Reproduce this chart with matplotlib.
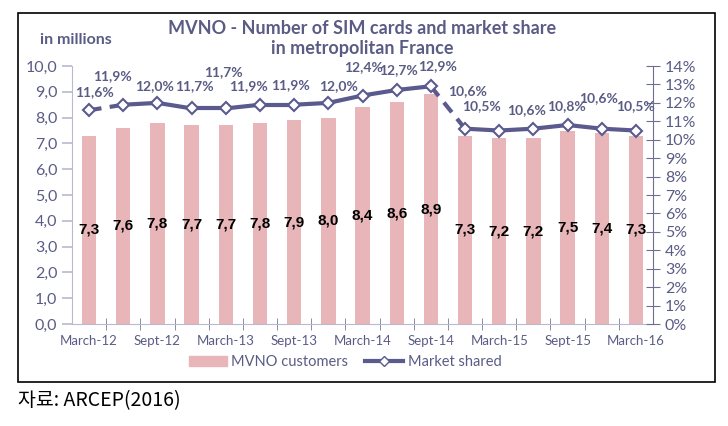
import matplotlib.pyplot as plt
import matplotlib.patches as patches
import numpy as np

# data
periods = ["March-12", "June-12", "Sept-12", "Dec-12", "March-13", "June-13", "Sept-13",
           "Dec-13", "March-14", "June-14", "Sept-14", "Dec-14", "March-15", "June-15",
           "Sept-15", "Dec-15", "March-16"]
customers = [7.3, 7.6, 7.8, 7.7, 7.7, 7.8, 7.9, 8.0, 8.4, 8.6, 8.9, 7.3, 7.2, 7.2, 7.5, 7.4, 7.3]
share = [11.6, 11.9, 12.0, 11.7, 11.7, 11.9, 11.9, 12.0, 12.4, 12.7, 12.9,
         10.6, 10.5, 10.6, 10.8, 10.6, 10.5]
dashed_segments = [0, 10]  # segment i -> i+1 drawn dashed

# label offsets (points) for the share annotations
share_offsets = [(4, 9), (-8, 16), (-2, 8), (2, 12), (-2, 22), (-8, 9), (-3, 10), (7, 8),
                 (1, 16), (1, 10), (5, 10), (2, 23), (-13, 13), (-5, 9), (-1, 9), (-2, 18), (0, 13)]

BAR = "#e8b5b9"
LINE = "#5a5a8e"
TXT = "#5a5c85"
plt.rcParams['font.family'] = ['Lato', 'DejaVu Sans']

fig = plt.figure(figsize=(7.28, 4.26), dpi=100)
ax = fig.add_axes([0.0989, 0.2394, 0.7981, 0.6056])
ax2 = ax.twinx()

x = np.arange(len(periods))
ax.bar(x, customers, width=0.42, color=BAR, zorder=2)
for xi, v in zip(x, customers):
    ax.text(xi, v / 2, f"{v:.1f}".replace(".", ","), ha="center", va="center",
            fontsize=11, fontweight="bold", family="Liberation Sans", color="black", zorder=5)

ax.set_xlim(-0.5, len(periods) - 0.5)
ax.set_ylim(0, 10)
ax.set_yticks(np.arange(0, 11, 1))
ax.set_yticklabels([f"{v:.1f}".replace(".", ",") for v in np.arange(0, 11, 1)])
ax.set_xticks(x[::2])
ax.set_xticklabels(periods[::2])
ax.set_xticks(np.arange(0.5, len(periods) - 1, 1), minor=True)

# line with dashed segments
for i in range(len(share) - 1):
    ls = (0, (3, 2)) if i in dashed_segments else "-"
    ax2.plot(x[i:i + 2], share[i:i + 2], color=LINE, lw=3, ls=ls, zorder=3,
             solid_capstyle="round")
ax2.plot(x, share, ls="none", marker="D", ms=6.5, mfc="white", mec=LINE, mew=1.5, zorder=4)
for xi, v, (dx, dy) in zip(x, share, share_offsets):
    ax2.annotate(f"{v:.1f}%".replace(".", ","), (xi, v), xytext=(dx, dy),
                 textcoords="offset points", ha="center", va="bottom",
                 fontsize=10, fontweight="bold", color=TXT)
ax2.set_ylim(0, 14)
ax2.set_yticks(np.arange(0, 15, 1))
ax2.set_yticklabels([f"{v}%" for v in range(15)])

for a in (ax, ax2):
    a.spines["top"].set_visible(False)
    a.set_facecolor("none")
ax.spines["right"].set_visible(False)
ax.spines["left"].set_color("#b9b9d2")
ax.spines["bottom"].set_color("#b9b9d2")
ax2.spines["left"].set_visible(False)
ax2.spines["bottom"].set_visible(False)
ax2.spines["right"].set_color("#6e6e92")
ax.tick_params(axis="y", colors="#b9b9d2", labelcolor=TXT, labelsize=11.5, direction="out", length=7, width=1.2)
ax.tick_params(axis="x", which="major", length=0, labelcolor=TXT, labelsize=9.5, pad=8)
ax.tick_params(axis="x", which="minor", colors="#7a7a9a", direction="inout", length=8)
ax2.tick_params(axis="y", colors="#6e6e92", labelcolor=TXT, labelsize=11.5, direction="inout", length=10)

fig.text(0.497, 0.91, "MVNO - Number of SIM cards and market share\nin metropolitan France",
         ha="center", va="center", fontsize=13, fontweight="bold", color=TXT, linespacing=1.2)
fig.text(0.055, 0.905, "in millions", fontsize=11.5, fontweight="bold", color=TXT, va="center")

handles = [patches.Patch(color=BAR),
           plt.Line2D([], [], color=LINE, lw=3, marker="D", ms=5, mfc="white", mec=LINE)]
fig.legend(handles, ["MVNO customers", "Market shared"], loc="center", ncol=2,
           bbox_to_anchor=(0.474, 0.15), frameon=False, fontsize=10.5, labelcolor=TXT,
           handlelength=2.6, handletextpad=0.3, columnspacing=1.2)

fig.patches.append(patches.Rectangle((0.025, 0.103), 0.957, 0.866, transform=fig.transFigure,
                                     fill=False, ec="black", lw=1.2))
fig.text(0.025, 0.06, "자료: ARCEP(2016)", fontsize=14, family=["Noto Sans CJK KR"],
         color="black", va="center")

fig.savefig("out.png", dpi=100)
